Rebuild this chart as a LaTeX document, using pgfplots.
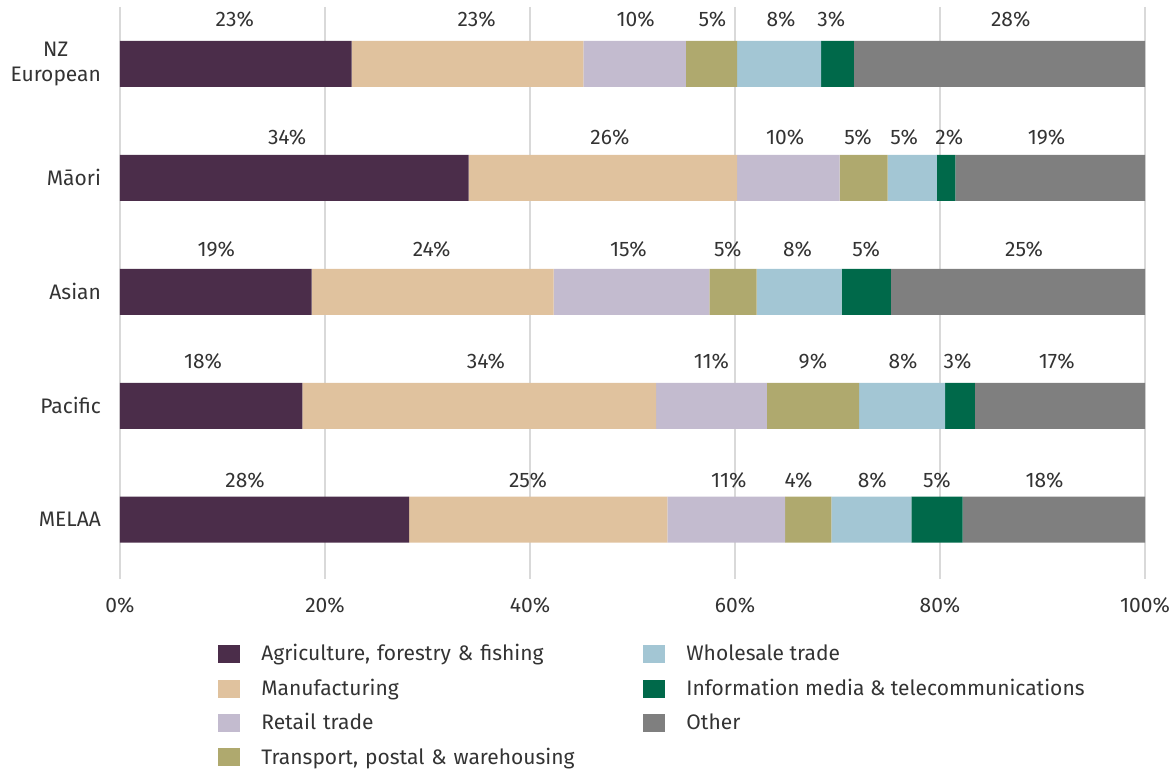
\documentclass[border=0pt]{standalone}
\usepackage{fontspec}
\setmainfont{Fira Sans}
\usepackage{pgfplots}
\usepackage{pgfplotstable}
\pgfplotsset{compat=1.18}

\definecolor{agri}{HTML}{4B2D4A}
\definecolor{manuf}{HTML}{E0C29E}
\definecolor{retail}{HTML}{C3BBCF}
\definecolor{transp}{HTML}{AFA96E}
\definecolor{whole}{HTML}{A3C6D4}
\definecolor{info}{HTML}{00694A}
\definecolor{other}{HTML}{7F7F7F}
\definecolor{txt}{HTML}{333333}
\definecolor{gridc}{HTML}{D9D9D9}

% share of each industry, rows: NZ European, Maori, Asian, Pacific, MELAA
\pgfplotstableread{
cat agri manuf retail transp whole info other
0 22.6 22.6 10.0 5.0 8.2 3.2 28.4
1 34.0 26.2 10.0 4.7 4.8 1.8 18.5
2 18.7 23.6 15.2 4.6 8.3 4.8 24.8
3 17.8 34.5 10.8 9.0 8.4 2.9 16.6
4 28.2 25.2 11.5 4.5 7.8 5.0 17.8
}\shares

% rounded labels above the bars (x position, row, value)
\pgfplotstableread{
x y v
11.2 -0.39 23
34.8 -0.39 23
50.3 -0.39 10
57.8 -0.39 5
64.5 -0.39 8
69.4 -0.39 3
86.9 -0.39 28
16.3 0.64 34
47.8 0.64 26
64.9 0.64 10
72.0 0.64 5
76.5 0.64 5
80.9 0.64 2
90.4 0.64 19
9.4 1.63 19
30.4 1.63 24
49.6 1.63 15
59.3 1.63 5
66.1 1.63 8
72.8 1.63 5
88.2 1.63 25
8.1 2.61 18
35.7 2.61 34
57.7 2.61 11
67.6 2.61 9
76.4 2.61 8
81.7 2.61 3
91.4 2.61 17
12.2 3.65 28
39.8 3.65 25
59.4 3.65 11
66.2 3.65 4
73.4 3.65 8
79.7 3.65 5
90.2 3.65 18
}\labels

\pgfplotsset{
  common/.style={
    width=512.5pt, height=286pt, scale only axis,
    xmin=0, xmax=100, ymin=-0.5, ymax=4.52, y dir=reverse,
    /pgf/number format/assume math mode=true,
  },
}

\begin{document}
\begin{tikzpicture}[font=\fontsize{10.5}{12.6}\selectfont]
\begin{axis}[
    common,
    xbar stacked,
    bar width=23pt,
    axis line style={draw=none},
    major tick length=0pt,
    xtick={0,20,...,100},
    xticklabel={\pgfmathprintnumber{\tick}\%},
    xticklabel style={text=txt, yshift=-6pt},
    xmajorgrids,
    grid style={gridc, line width=0.6pt},
    ytick={0,1,2,3,4},
    yticklabels={{NZ\\European},Māori,Asian,Pacific,MELAA},
    yticklabel style={text=txt, align=center, xshift=-6pt},
]
\addplot[fill=agri, draw=none] table[x=agri, y=cat] {\shares};
\addplot[fill=manuf, draw=none] table[x=manuf, y=cat] {\shares};
\addplot[fill=retail, draw=none] table[x=retail, y=cat] {\shares};
\addplot[fill=transp, draw=none] table[x=transp, y=cat] {\shares};
\addplot[fill=whole, draw=none] table[x=whole, y=cat] {\shares};
\addplot[fill=info, draw=none] table[x=info, y=cat] {\shares};
\addplot[fill=other, draw=none] table[x=other, y=cat] {\shares};
\end{axis}

\begin{axis}[
    common,
    hide axis,
    legend columns=2,
    legend cell align=left,
    legend image code/.code={\fill[#1, draw=none] (0pt,-4.5pt) rectangle (11pt,4.5pt);},
    legend style={
      at={(0.0956,-0.107)}, anchor=north west,
      draw=none, fill=none, inner sep=0pt,
      text=txt, row sep=3.5pt,
      /tikz/column 1/.style={column sep=8.5pt},
      /tikz/column 3/.style={column sep=8.5pt},
      /tikz/column 2/.style={text width=189pt},
    },
]
\addplot[draw=none, mark=none, forget plot,
    nodes near coords={\pgfmathprintnumber{\pgfplotspointmeta}\%},
    point meta=explicit,
    every node near coord/.append style={anchor=center, text=txt}]
    table[x=x, y=y, meta=v] {\labels};
\addlegendimage{fill=agri}
\addlegendentry{Agriculture, forestry \& fishing}
\addlegendimage{fill=whole}
\addlegendentry{Wholesale trade}
\addlegendimage{fill=manuf}
\addlegendentry{Manufacturing}
\addlegendimage{fill=info}
\addlegendentry{Information media \& telecommunications}
\addlegendimage{fill=retail}
\addlegendentry{Retail trade}
\addlegendimage{fill=other}
\addlegendentry{Other}
\addlegendimage{fill=transp}
\addlegendentry{Transport, postal \& warehousing}
\end{axis}
% page frame matching the reference margins
\pgfresetboundingbox
\useasboundingbox (-60pt,-95pt) rectangle (526pt,289.5pt);
\end{tikzpicture}
\end{document}
